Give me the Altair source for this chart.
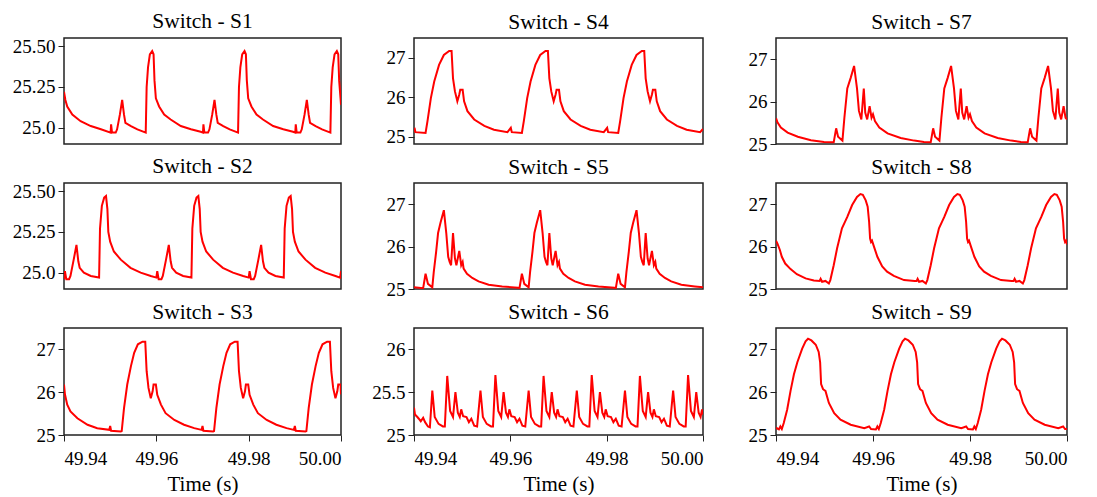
import altair as alt
import pandas as pd

X_DOMAIN = [49.94, 50.00]
X_TICKS = [49.94, 49.96, 49.98, 50.00]

# (time s, temperature) pairs
S1 = [(49.9400, 25.22), (49.9403, 25.17), (49.9407, 25.13), (49.9418, 25.08), (49.9436, 25.04), (49.9458, 25.01), (49.9480, 24.99),
      (49.9501, 24.97), (49.9502, 25.02), (49.9504, 24.97), (49.9512, 24.97), (49.9515, 24.99), (49.9521, 25.08), (49.9526, 25.17),
      (49.9530, 25.08), (49.9533, 25.03), (49.9545, 25.01), (49.9559, 24.99), (49.9577, 24.97), (49.9579, 25.25), (49.9582, 25.37),
      (49.9586, 25.45), (49.9591, 25.47), (49.9594, 25.45), (49.9596, 25.29), (49.9599, 25.18), (49.9606, 25.13), (49.9617, 25.08),
      (49.9631, 25.05), (49.9653, 25.01), (49.9675, 24.99), (49.9696, 24.975),
      (49.9701, 24.97), (49.9702, 25.02), (49.9704, 24.97), (49.9712, 24.97), (49.9715, 24.99), (49.9721, 25.08), (49.9726, 25.17),
      (49.9730, 25.08), (49.9733, 25.03), (49.9745, 25.01), (49.9759, 24.99), (49.9777, 24.97), (49.9779, 25.25), (49.9782, 25.37),
      (49.9786, 25.45), (49.9791, 25.47), (49.9794, 25.45), (49.9796, 25.29), (49.9799, 25.18), (49.9806, 25.13), (49.9817, 25.08),
      (49.9831, 25.05), (49.9853, 25.01), (49.9875, 24.99), (49.9896, 24.975),
      (49.9901, 24.97), (49.9902, 25.02), (49.9904, 24.97), (49.9912, 24.97), (49.9915, 24.99), (49.9921, 25.08), (49.9926, 25.17),
      (49.9930, 25.08), (49.9933, 25.03), (49.9945, 25.01), (49.9959, 24.99), (49.9977, 24.97), (49.9979, 25.25), (49.9982, 25.37),
      (49.9986, 25.45), (49.9991, 25.47), (49.9994, 25.45), (49.9996, 25.29), (49.9999, 25.18), (50.0000, 25.14)]

S2 = [(49.9400, 24.96),
      (49.9402, 25.01), (49.9405, 24.96), (49.9411, 24.96), (49.9414, 24.98), (49.9421, 25.08), (49.9427, 25.17), (49.9431, 25.07),
      (49.9434, 25.03), (49.9443, 25.00), (49.9458, 24.98), (49.9476, 24.97), (49.9478, 25.27), (49.9482, 25.41), (49.9487, 25.46),
      (49.9491, 25.47), (49.9494, 25.39), (49.9496, 25.25), (49.9500, 25.19), (49.9508, 25.13), (49.9523, 25.08), (49.9544, 25.03),
      (49.9566, 25.00), (49.9588, 24.98), (49.9600, 24.97),
      (49.9602, 25.01), (49.9605, 24.96), (49.9611, 24.96), (49.9614, 24.98), (49.9621, 25.08), (49.9627, 25.17), (49.9631, 25.07),
      (49.9634, 25.03), (49.9643, 25.00), (49.9658, 24.98), (49.9676, 24.97), (49.9678, 25.27), (49.9682, 25.41), (49.9687, 25.46),
      (49.9691, 25.47), (49.9694, 25.39), (49.9696, 25.25), (49.9700, 25.19), (49.9708, 25.13), (49.9723, 25.08), (49.9744, 25.03),
      (49.9766, 25.00), (49.9788, 24.98), (49.9800, 24.97),
      (49.9802, 25.01), (49.9805, 24.96), (49.9811, 24.96), (49.9814, 24.98), (49.9821, 25.08), (49.9827, 25.17), (49.9831, 25.07),
      (49.9834, 25.03), (49.9843, 25.00), (49.9858, 24.98), (49.9876, 24.97), (49.9878, 25.27), (49.9882, 25.41), (49.9887, 25.46),
      (49.9891, 25.47), (49.9894, 25.39), (49.9896, 25.25), (49.9900, 25.19), (49.9908, 25.13), (49.9923, 25.08), (49.9944, 25.03),
      (49.9966, 25.00), (49.9988, 24.98), (49.9998, 24.97), (50.0000, 25.01)]

S3 = [(49.9400, 26.18), (49.9402, 25.95), (49.9407, 25.71), (49.9414, 25.55), (49.9429, 25.39), (49.9451, 25.24), (49.9472, 25.16),
      (49.9498, 25.12), (49.9500, 25.21), (49.9502, 25.10), (49.9523, 25.08), (49.9525, 25.09), (49.9530, 25.63), (49.9537, 26.18),
      (49.9545, 26.61), (49.9552, 26.92), (49.9560, 27.12), (49.9570, 27.18), (49.9576, 27.18), (49.9579, 26.49), (49.9583, 26.10),
      (49.9588, 25.86), (49.9592, 26.02), (49.9594, 26.18), (49.9599, 26.18), (49.9602, 25.94), (49.9610, 25.71), (49.9620, 25.51),
      (49.9639, 25.35), (49.9660, 25.24), (49.9682, 25.16),
      (49.9698, 25.12), (49.9700, 25.21), (49.9702, 25.10), (49.9723, 25.08), (49.9725, 25.09), (49.9730, 25.63), (49.9737, 26.18),
      (49.9745, 26.61), (49.9752, 26.92), (49.9760, 27.12), (49.9770, 27.18), (49.9776, 27.18), (49.9779, 26.49), (49.9783, 26.10),
      (49.9788, 25.86), (49.9792, 26.02), (49.9794, 26.18), (49.9799, 26.18), (49.9802, 25.94), (49.9810, 25.71), (49.9820, 25.51),
      (49.9839, 25.35), (49.9860, 25.24), (49.9882, 25.16),
      (49.9898, 25.12), (49.9900, 25.21), (49.9902, 25.10), (49.9923, 25.08), (49.9925, 25.09), (49.9930, 25.63), (49.9937, 26.18),
      (49.9945, 26.61), (49.9952, 26.92), (49.9960, 27.12), (49.9970, 27.18), (49.9976, 27.18), (49.9979, 26.49), (49.9983, 26.10),
      (49.9988, 25.86), (49.9992, 26.02), (49.9994, 26.18), (49.9999, 26.18), (50.0000, 25.95)]

S4 = [(49.9400, 25.13),
      (49.9401, 25.23), (49.9403, 25.12), (49.9424, 25.10), (49.9428, 25.40), (49.9435, 25.98), (49.9442, 26.40), (49.9452, 26.82),
      (49.9462, 27.07), (49.9473, 27.17), (49.9478, 27.17), (49.9481, 26.48), (49.9485, 26.15), (49.9490, 25.90), (49.9494, 26.07),
      (49.9496, 26.19), (49.9501, 26.19), (49.9504, 25.90), (49.9511, 25.65), (49.9525, 25.44), (49.9546, 25.28), (49.9566, 25.18),
      (49.9594, 25.12),
      (49.9601, 25.23), (49.9603, 25.12), (49.9624, 25.10), (49.9628, 25.40), (49.9635, 25.98), (49.9642, 26.40), (49.9652, 26.82),
      (49.9662, 27.07), (49.9673, 27.17), (49.9678, 27.17), (49.9681, 26.48), (49.9685, 26.15), (49.9690, 25.90), (49.9694, 26.07),
      (49.9696, 26.19), (49.9701, 26.19), (49.9704, 25.90), (49.9711, 25.65), (49.9725, 25.44), (49.9746, 25.28), (49.9766, 25.18),
      (49.9794, 25.12),
      (49.9801, 25.23), (49.9803, 25.12), (49.9824, 25.10), (49.9828, 25.40), (49.9835, 25.98), (49.9842, 26.40), (49.9852, 26.82),
      (49.9862, 27.07), (49.9873, 27.17), (49.9878, 27.17), (49.9881, 26.48), (49.9885, 26.15), (49.9890, 25.90), (49.9894, 26.07),
      (49.9896, 26.19), (49.9901, 26.19), (49.9904, 25.90), (49.9911, 25.65), (49.9925, 25.44), (49.9946, 25.28), (49.9966, 25.18),
      (49.9994, 25.12), (50.0000, 25.20)]

S5 = [(49.9400, 25.04),
      (49.9419, 25.02), (49.9424, 25.36), (49.9429, 25.12), (49.9438, 25.04), (49.9441, 25.40), (49.9446, 25.88), (49.9450, 26.32),
      (49.9455, 26.56), (49.9462, 26.86), (49.9467, 26.32), (49.9471, 25.76), (49.9474, 25.64), (49.9477, 25.56), (49.9481, 26.32),
      (49.9485, 25.72), (49.9488, 25.56), (49.9494, 25.90), (49.9498, 25.56), (49.9501, 25.64), (49.9503, 25.48), (49.9510, 25.36),
      (49.9521, 25.26), (49.9534, 25.18), (49.9555, 25.10), (49.9583, 25.06), (49.9616, 25.03),
      (49.9619, 25.02), (49.9624, 25.36), (49.9629, 25.12), (49.9638, 25.04), (49.9641, 25.40), (49.9646, 25.88), (49.9650, 26.32),
      (49.9655, 26.56), (49.9662, 26.86), (49.9667, 26.32), (49.9671, 25.76), (49.9674, 25.64), (49.9677, 25.56), (49.9681, 26.32),
      (49.9685, 25.72), (49.9688, 25.56), (49.9694, 25.90), (49.9698, 25.56), (49.9701, 25.64), (49.9703, 25.48), (49.9710, 25.36),
      (49.9721, 25.26), (49.9734, 25.18), (49.9755, 25.10), (49.9783, 25.06), (49.9816, 25.03),
      (49.9819, 25.02), (49.9824, 25.36), (49.9829, 25.12), (49.9838, 25.04), (49.9841, 25.40), (49.9846, 25.88), (49.9850, 26.32),
      (49.9855, 26.56), (49.9862, 26.86), (49.9867, 26.32), (49.9871, 25.76), (49.9874, 25.64), (49.9877, 25.56), (49.9881, 26.32),
      (49.9885, 25.72), (49.9888, 25.56), (49.9894, 25.90), (49.9898, 25.56), (49.9901, 25.64), (49.9903, 25.48), (49.9910, 25.36),
      (49.9921, 25.26), (49.9934, 25.18), (49.9955, 25.10), (49.9983, 25.06), (50.0000, 25.04)]

S6 = [(49.9400, 25.32), (49.9402, 25.24), (49.9407, 25.21), (49.9410, 25.19), (49.9414, 25.16), (49.9419, 25.20), (49.9423, 25.15),
      (49.9429, 25.10), (49.9433, 25.09),
      (49.9438, 25.52), (49.9443, 25.21), (49.9451, 25.13), (49.9460, 25.10), (49.9464, 25.10), (49.9469, 25.69), (49.9475, 25.28),
      (49.9481, 25.21), (49.9486, 25.50), (49.9491, 25.26), (49.9495, 25.21), (49.9498, 25.30), (49.9502, 25.22), (49.9509, 25.21),
      (49.9514, 25.15), (49.9519, 25.19), (49.9525, 25.11), (49.9531, 25.10),
      (49.9538, 25.52), (49.9543, 25.21), (49.9551, 25.13), (49.9560, 25.10), (49.9564, 25.10), (49.9569, 25.70), (49.9575, 25.28),
      (49.9581, 25.21), (49.9586, 25.50), (49.9591, 25.26), (49.9595, 25.21), (49.9598, 25.30), (49.9602, 25.22), (49.9609, 25.21),
      (49.9614, 25.15), (49.9619, 25.19), (49.9625, 25.11), (49.9631, 25.10),
      (49.9638, 25.52), (49.9643, 25.21), (49.9651, 25.13), (49.9660, 25.10), (49.9664, 25.10), (49.9669, 25.69), (49.9675, 25.28),
      (49.9681, 25.21), (49.9686, 25.50), (49.9691, 25.26), (49.9695, 25.21), (49.9698, 25.30), (49.9702, 25.22), (49.9709, 25.21),
      (49.9714, 25.15), (49.9719, 25.19), (49.9725, 25.11), (49.9731, 25.10),
      (49.9738, 25.52), (49.9743, 25.21), (49.9751, 25.13), (49.9760, 25.10), (49.9764, 25.10), (49.9769, 25.70), (49.9775, 25.28),
      (49.9781, 25.21), (49.9786, 25.50), (49.9791, 25.26), (49.9795, 25.21), (49.9798, 25.30), (49.9802, 25.22), (49.9809, 25.21),
      (49.9814, 25.15), (49.9819, 25.19), (49.9825, 25.11), (49.9831, 25.10),
      (49.9838, 25.52), (49.9843, 25.21), (49.9851, 25.13), (49.9860, 25.10), (49.9864, 25.10), (49.9869, 25.69), (49.9875, 25.28),
      (49.9881, 25.21), (49.9886, 25.50), (49.9891, 25.26), (49.9895, 25.21), (49.9898, 25.30), (49.9902, 25.22), (49.9909, 25.21),
      (49.9914, 25.15), (49.9919, 25.19), (49.9925, 25.11), (49.9931, 25.10),
      (49.9938, 25.52), (49.9943, 25.21), (49.9951, 25.13), (49.9960, 25.10), (49.9964, 25.10), (49.9969, 25.70), (49.9975, 25.28),
      (49.9981, 25.21), (49.9986, 25.50), (49.9991, 25.26), (49.9995, 25.21), (49.9998, 25.30), (50.0000, 25.24)]

S7 = [(49.9400, 25.61), (49.9403, 25.51), (49.9410, 25.39), (49.9424, 25.27), (49.9445, 25.17), (49.9472, 25.09), (49.9499, 25.05),
      (49.9519, 25.04), (49.9524, 25.37), (49.9528, 25.17), (49.9537, 25.08), (49.9541, 25.62), (49.9547, 26.31), (49.9554, 26.56),
      (49.9561, 26.84), (49.9567, 26.31), (49.9571, 25.78), (49.9576, 25.58), (49.9581, 26.31), (49.9584, 25.74), (49.9588, 25.58),
      (49.9593, 25.89), (49.9597, 25.62), (49.9600, 25.70), (49.9604, 25.54), (49.9613, 25.39), (49.9630, 25.25), (49.9657, 25.14),
      (49.9685, 25.08), (49.9705, 25.05),
      (49.9719, 25.04), (49.9724, 25.37), (49.9728, 25.17), (49.9737, 25.08), (49.9741, 25.62), (49.9747, 26.31), (49.9754, 26.56),
      (49.9761, 26.84), (49.9767, 26.31), (49.9771, 25.78), (49.9776, 25.58), (49.9781, 26.31), (49.9784, 25.74), (49.9788, 25.58),
      (49.9793, 25.89), (49.9797, 25.62), (49.9800, 25.70), (49.9804, 25.54), (49.9813, 25.39), (49.9830, 25.25), (49.9857, 25.14),
      (49.9885, 25.08), (49.9905, 25.05),
      (49.9919, 25.04), (49.9924, 25.37), (49.9928, 25.17), (49.9937, 25.08), (49.9941, 25.62), (49.9947, 26.31), (49.9954, 26.56),
      (49.9961, 26.84), (49.9967, 26.31), (49.9971, 25.78), (49.9976, 25.58), (49.9981, 26.31), (49.9984, 25.74), (49.9988, 25.58),
      (49.9993, 25.89), (49.9997, 25.62), (50.0000, 25.58)]

S8 = [(49.9400, 26.14), (49.9403, 26.07), (49.9408, 25.92), (49.9412, 25.76), (49.9419, 25.60), (49.9430, 25.47), (49.9443, 25.35),
      (49.9461, 25.25), (49.9478, 25.20),
      (49.9490, 25.19), (49.9492, 25.24), (49.9495, 25.17), (49.9502, 25.19), (49.9509, 25.13), (49.9512, 25.21), (49.9519, 25.56),
      (49.9526, 25.96), (49.9536, 26.43), (49.9547, 26.70), (49.9557, 26.98), (49.9567, 27.17), (49.9574, 27.24), (49.9579, 27.22),
      (49.9585, 27.09), (49.9589, 26.94), (49.9592, 26.58), (49.9594, 26.19), (49.9596, 26.11), (49.9598, 26.14), (49.9602, 26.00),
      (49.9609, 25.76), (49.9619, 25.53), (49.9629, 25.41), (49.9643, 25.31), (49.9664, 25.21), (49.9686, 25.19),
      (49.9690, 25.19), (49.9692, 25.24), (49.9695, 25.17), (49.9702, 25.19), (49.9709, 25.13), (49.9712, 25.21), (49.9719, 25.56),
      (49.9726, 25.96), (49.9736, 26.43), (49.9747, 26.70), (49.9757, 26.98), (49.9767, 27.17), (49.9774, 27.24), (49.9779, 27.22),
      (49.9785, 27.09), (49.9789, 26.94), (49.9792, 26.58), (49.9794, 26.19), (49.9796, 26.11), (49.9798, 26.14), (49.9802, 26.00),
      (49.9809, 25.76), (49.9819, 25.53), (49.9829, 25.41), (49.9843, 25.31), (49.9864, 25.21), (49.9886, 25.19),
      (49.9890, 25.19), (49.9892, 25.24), (49.9895, 25.17), (49.9902, 25.19), (49.9909, 25.13), (49.9912, 25.21), (49.9919, 25.56),
      (49.9926, 25.96), (49.9936, 26.43), (49.9947, 26.70), (49.9957, 26.98), (49.9967, 27.17), (49.9974, 27.24), (49.9979, 27.22),
      (49.9985, 27.09), (49.9989, 26.94), (49.9992, 26.58), (49.9994, 26.19), (49.9996, 26.11), (49.9998, 26.14), (50.0000, 26.05)]

S9 = [(49.9400, 25.17),
      (49.9406, 25.13), (49.9409, 25.20), (49.9412, 25.14), (49.9416, 25.28), (49.9423, 25.59), (49.9430, 26.03), (49.9437, 26.42),
      (49.9444, 26.70), (49.9454, 27.02), (49.9461, 27.19), (49.9466, 27.25), (49.9473, 27.21), (49.9482, 27.11), (49.9488, 26.94),
      (49.9491, 26.70), (49.9493, 26.19), (49.9497, 26.07), (49.9502, 26.03), (49.9509, 25.75), (49.9520, 25.51), (49.9533, 25.36),
      (49.9554, 25.24), (49.9582, 25.16), (49.9592, 25.20), (49.9596, 25.14),
      (49.9606, 25.13), (49.9609, 25.20), (49.9612, 25.14), (49.9616, 25.28), (49.9623, 25.59), (49.9630, 26.03), (49.9637, 26.42),
      (49.9644, 26.70), (49.9654, 27.02), (49.9661, 27.19), (49.9666, 27.25), (49.9673, 27.21), (49.9682, 27.11), (49.9688, 26.94),
      (49.9691, 26.70), (49.9693, 26.19), (49.9697, 26.07), (49.9702, 26.03), (49.9709, 25.75), (49.9720, 25.51), (49.9733, 25.36),
      (49.9754, 25.24), (49.9782, 25.16), (49.9792, 25.20), (49.9796, 25.14),
      (49.9806, 25.13), (49.9809, 25.20), (49.9812, 25.14), (49.9816, 25.28), (49.9823, 25.59), (49.9830, 26.03), (49.9837, 26.42),
      (49.9844, 26.70), (49.9854, 27.02), (49.9861, 27.19), (49.9866, 27.25), (49.9873, 27.21), (49.9882, 27.11), (49.9888, 26.94),
      (49.9891, 26.70), (49.9893, 26.19), (49.9897, 26.07), (49.9902, 26.03), (49.9909, 25.75), (49.9920, 25.51), (49.9933, 25.36),
      (49.9954, 25.24), (49.9982, 25.16), (49.9992, 25.20), (49.9996, 25.14), (50.0000, 25.14)]

TITLES = ["Switch - S1", "Switch - S4", "Switch - S7",
          "Switch - S2", "Switch - S5", "Switch - S8",
          "Switch - S3", "Switch - S6", "Switch - S9"]
SERIES = [S1, S4, S7, S2, S5, S8, S3, S6, S9]
Y_DOMAINS = [[24.9, 25.55], [24.82, 27.5], [25, 27.5],
             [24.9, 25.55], [25, 27.5], [25, 27.5],
             [25, 27.5], [25, 26.25], [25, 27.5]]
Y_TICKS = [[25.0, 25.25, 25.5], [25, 26, 27], [25, 26, 27],
           [25.0, 25.25, 25.5], [25, 26, 27], [25, 26, 27],
           [25, 26, 27], [25, 25.5, 26], [25, 26, 27]]
Y_LABELS = ["datum.value == 25 ? '25.0' : format(datum.value, '.2f')",
            "format(datum.value, '~g')", "format(datum.value, '~g')",
            "datum.value == 25 ? '25.0' : format(datum.value, '.2f')",
            "format(datum.value, '~g')", "format(datum.value, '~g')",
            "format(datum.value, '~g')", "format(datum.value, '~g')", "format(datum.value, '~g')"]
COL_WIDTHS = [277, 289, 291]
ROW_HEIGHTS = [106, 106, 107]

FONT = "'Times New Roman', 'Liberation Serif', serif"


def panel(i):
    row, col = divmod(i, 3)
    df = pd.DataFrame(SERIES[i], columns=["t", "v"])
    xscale = alt.Scale(domain=X_DOMAIN, nice=False, zero=False)
    if row == 2:
        xenc = alt.X("t:Q", scale=xscale,
                     axis=alt.Axis(values=X_TICKS, format=".2f", title="Time (s)",
                                   labelPadding=8, titlePadding=5))
    else:
        xenc = alt.X("t:Q", scale=xscale, axis=None)
    yaxis = alt.Axis(values=Y_TICKS[i], title=None, labelExpr=Y_LABELS[i])
    yenc = alt.Y("v:Q", scale=alt.Scale(domain=Y_DOMAINS[i], nice=False, zero=False), axis=yaxis)
    return (
        alt.Chart(df, title=alt.TitleParams(TITLES[i], anchor="middle", font=FONT, fontSize=21.5,
                                            fontWeight="normal", color="black", offset=5))
        .mark_line(color="#ff0000", strokeWidth=2, clip=True)
        .encode(x=xenc, y=yenc)
        .properties(width=COL_WIDTHS[col], height=ROW_HEIGHTS[row])
    )


chart = (
    alt.concat(*[panel(i) for i in range(9)], columns=3,
               spacing={"row": 39, "column": 73})
    .properties(align="each", bounds="flush",
                padding={"left": 3, "right": 5, "top": 1, "bottom": 0})
    .configure_view(stroke="#222222", strokeWidth=1.5)
    .configure_axis(labelFont=FONT, titleFont=FONT, labelFontSize=19, titleFontSize=21,
                    titleFontWeight="normal", labelColor="black", titleColor="black",
                    tickColor="#222222", tickSize=6, tickWidth=1, domain=False, grid=False,
                    labelPadding=3)
)

chart.save("out.html", embed_options={"renderer": "svg", "actions": False})
